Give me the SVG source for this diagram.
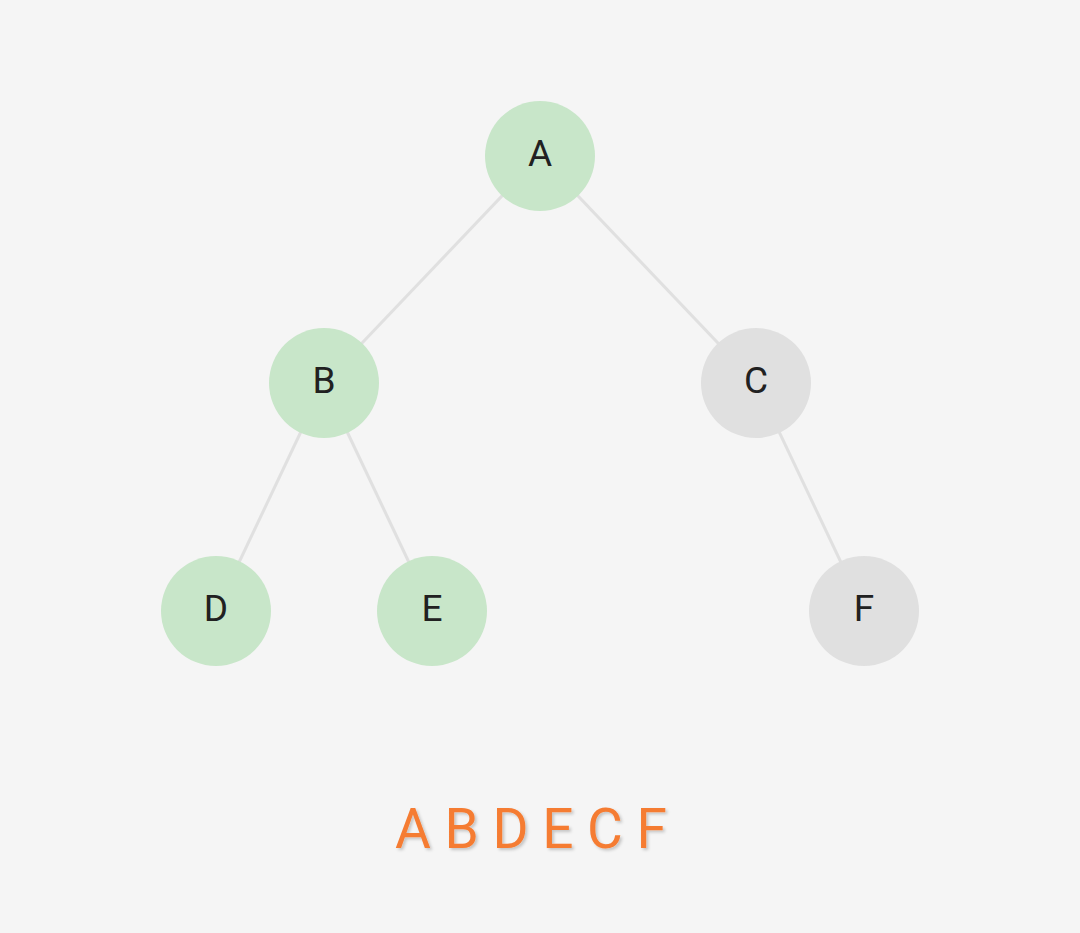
<svg xmlns="http://www.w3.org/2000/svg" width="1080" height="933" viewBox="0 0 1080 933">
<defs>
<style>
.edge{stroke:#e0e0e0;stroke-width:3;fill:none}
.visited{fill:#c8e6c9}
.unvisited{fill:#e0e0e0}
.label{font-family:Roboto,"Liberation Sans",sans-serif;font-size:37px;fill:#212121;text-anchor:middle;dominant-baseline:central}
.order{font-family:Roboto,"Liberation Sans",sans-serif;font-size:55px;fill:#f57c33;text-anchor:middle;filter:url(#sh)}
</style>
<filter id="sh" x="-10%" y="-30%" width="120%" height="160%">
<feDropShadow dx="2" dy="2" stdDeviation="1.5" flood-color="#000" flood-opacity="0.2"/>
</filter>
</defs>
<rect width="1080" height="933" fill="#f5f5f5"/>
<g id="connectors">
<line class="edge" x1="540" y1="156" x2="324" y2="383"/>
<line class="edge" x1="540" y1="156" x2="756" y2="383"/>
<line class="edge" x1="324" y1="383" x2="216" y2="611"/>
<line class="edge" x1="324" y1="383" x2="432" y2="611"/>
<line class="edge" x1="756" y1="383" x2="864" y2="611"/>
</g>
<g id="node-A"><circle class="visited" cx="540" cy="156" r="55"/><text class="label" x="540" y="153">A</text></g>
<g id="node-B"><circle class="visited" cx="324" cy="383" r="55"/><text class="label" x="324" y="380">B</text></g>
<g id="node-C"><circle class="unvisited" cx="756" cy="383" r="55"/><text class="label" x="756" y="380">C</text></g>
<g id="node-D"><circle class="visited" cx="216" cy="611" r="55"/><text class="label" x="216" y="608">D</text></g>
<g id="node-E"><circle class="visited" cx="432" cy="611" r="55"/><text class="label" x="432" y="608">E</text></g>
<g id="node-F"><circle class="unvisited" cx="864" cy="611" r="55"/><text class="label" x="864" y="608">F</text></g>
<text class="order" x="531" y="848">A B D E C F</text>
</svg>
